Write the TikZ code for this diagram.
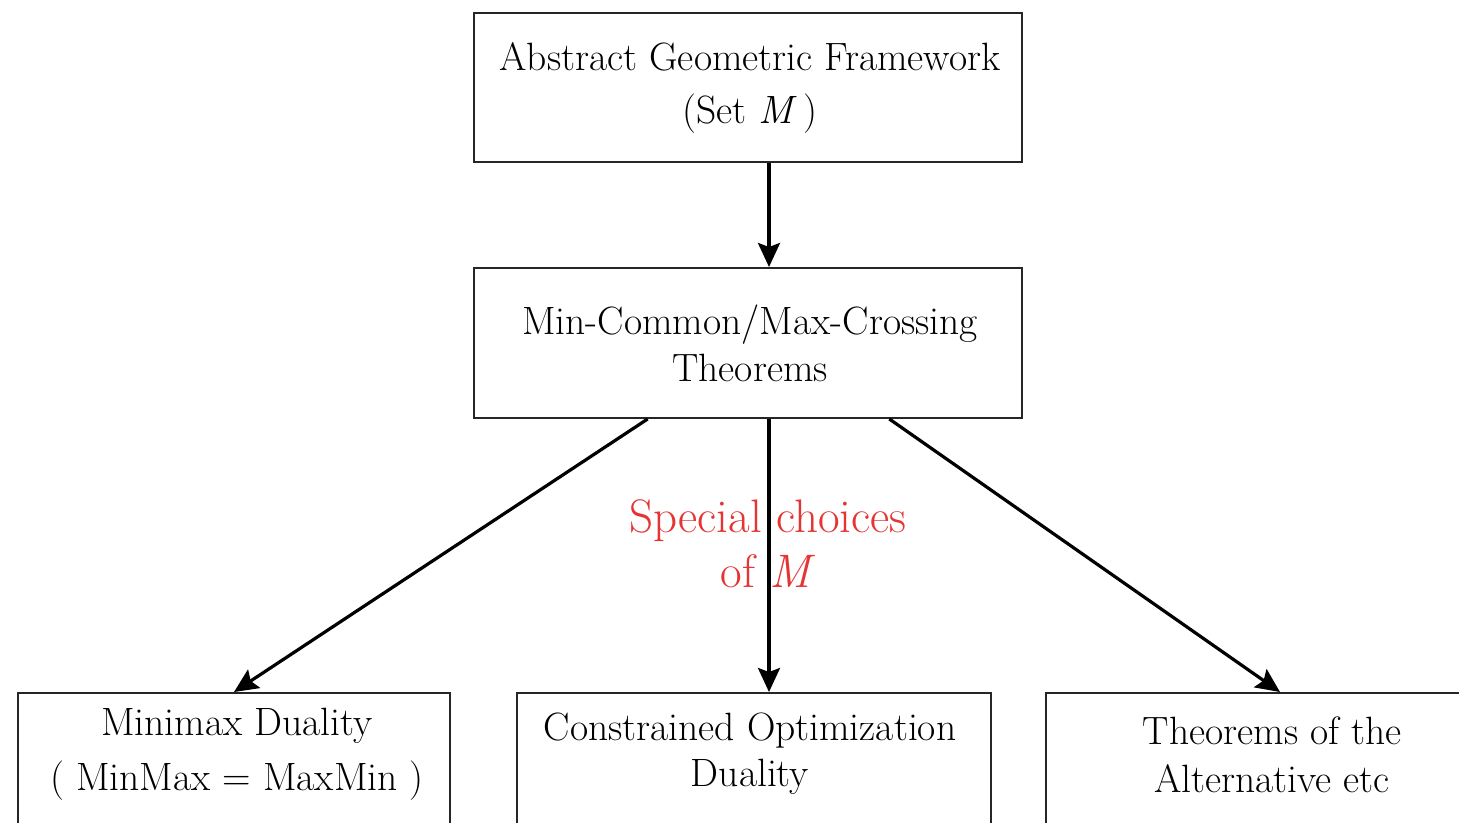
\documentclass[tikz,border=0pt]{standalone}
\usetikzlibrary{arrows.meta,calc}
\definecolor{labelred}{RGB}{228,52,52}
\begin{document}
\begin{tikzpicture}[x=1pt,y=-1pt,
  box/.style={draw=black!85, line width=2pt, rectangle, inner sep=0pt},
  txt/.style={align=center, font=\fontsize{39.5}{50}\selectfont, inner sep=0pt},
  redtxt/.style={align=center, font=\fontsize{47}{55}\selectfont, inner sep=0pt, text=labelred},
  arr/.style={line width=3.2pt, -{Stealth[length=24pt,width=22pt,inset=4pt]}}]
\useasboundingbox (0,0) rectangle (1459,822);
\clip (0,0) rectangle (1459,822);
% boxes
\node[box, minimum width=548pt, minimum height=149pt] (top) at (748,87.5) {};
\node[box, minimum width=548pt, minimum height=150pt] (mid) at (748,343) {};
\node[box, minimum width=432pt, minimum height=260pt] (bl) at (234,823) {};
\node[box, minimum width=474pt, minimum height=260pt] (bm) at (754,823) {};
\node[box, minimum width=468pt, minimum height=260pt] (br) at (1280,823) {};
% texts
\node[txt, font=\fontsize{39.5}{53}\selectfont] (ttop) at (750,88) {Abstract Geometric Framework\\(Set \textit{M}\,)};
\node[txt, font=\fontsize{39.5}{47}\selectfont] (tmid) at (750,343) {Min-Common/Max-Crossing\\Theorems};
\node[txt, font=\fontsize{39.5}{55}\selectfont] (tbl) at (237,754) {Minimax Duality\\( MinMax = MaxMin )};
\node[txt, font=\fontsize{39.5}{46}\selectfont] (tbm) at (750,754) {Constrained Optimization\\Duality};
\node[txt, font=\fontsize{39.5}{48}\selectfont] (tbr) at (1272,755) {Theorems of the\\Alternative etc};
\node[redtxt] (lab) at (768,544) {Special choices\\of \textit{M}};
% arrows
\draw[arr] (top.south -| 769,0) -- (mid.north -| 769,0);
\draw[arr] ($(mid.south west)!0.3175!(mid.south east)$) -- (bl.north);
\draw[arr] (mid.south -| 769,0) -- (bm.north -| 769,0);
\draw[arr] ($(mid.south west)!0.757!(mid.south east)$) -- (br.north);
\end{tikzpicture}
\end{document}
